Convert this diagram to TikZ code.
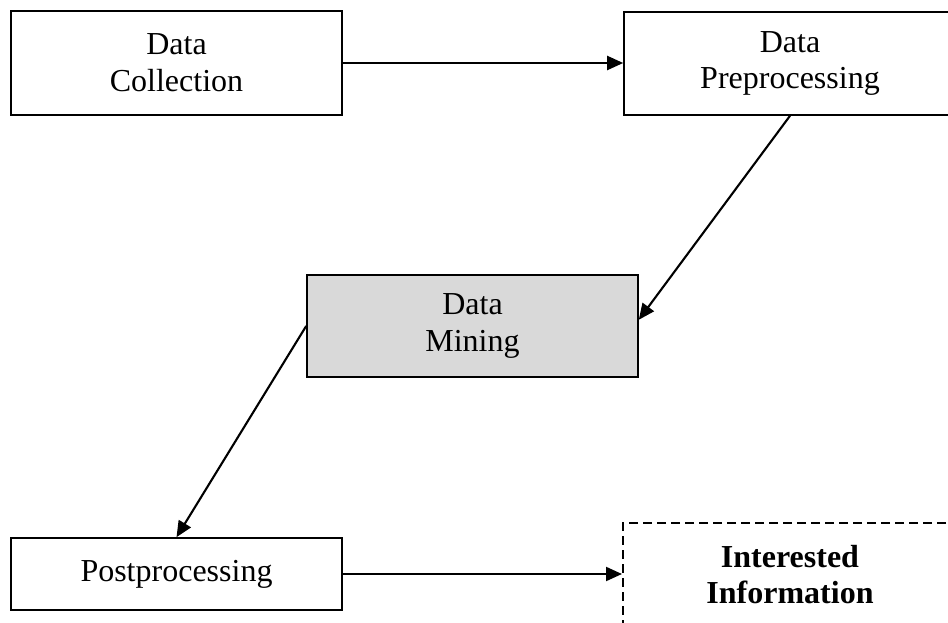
\documentclass[tikz,border=0pt]{standalone}
\usepackage{fontspec}
\setmainfont{Liberation Serif}
\usetikzlibrary{arrows.meta,calc}
\definecolor{minegray}{HTML}{D9D9D9}
\begin{document}
\begin{tikzpicture}[x=1pt,y=-1pt,
  box/.style={draw=black, line width=1.6pt, rectangle, align=center, inner sep=0pt,
    font=\fontsize{32}{36.8}\selectfont},
  conn/.style={line width=2.1pt, -{Triangle[length=16pt,width=14pt]}},
  infobox/.style={box, line width=2pt, dash pattern=on 9pt off 5pt,
    font=\fontsize{32}{36.8}\selectfont\bfseries}
]
\useasboundingbox (0,0) rectangle (948,623);
\clip (0,0) rectangle (948,623);
\fill[white] (0,0) rectangle (948,623);
\node[box, minimum width=331pt, minimum height=104pt] (dc) at (176.5,63) {Data\\Collection};
\node[box, minimum width=332pt, minimum height=103pt] (pp) at (790,63.5) {Data\\Preprocessing};
\node[box, fill=minegray, minimum width=331pt, minimum height=102pt] (dm) at (472.5,326) {Data\\Mining};
\node[box, minimum width=331pt, minimum height=72pt] (pc) at (176.5,574) {Postprocessing};
\node[infobox, minimum width=334pt, minimum height=103pt] (ii) at (790,574.5) {Interested\\Information};
\draw[conn] (dc.east) -- (dc.east -| pp.west);
\draw[conn] (pp.south) -- ($(dm.north east)!0.44!(dm.south east)$);
\draw[conn] (dm.west) -- (pc.north);
\draw[conn] (pc.east) -- (pc.east -| ii.west);
\end{tikzpicture}
\end{document}
